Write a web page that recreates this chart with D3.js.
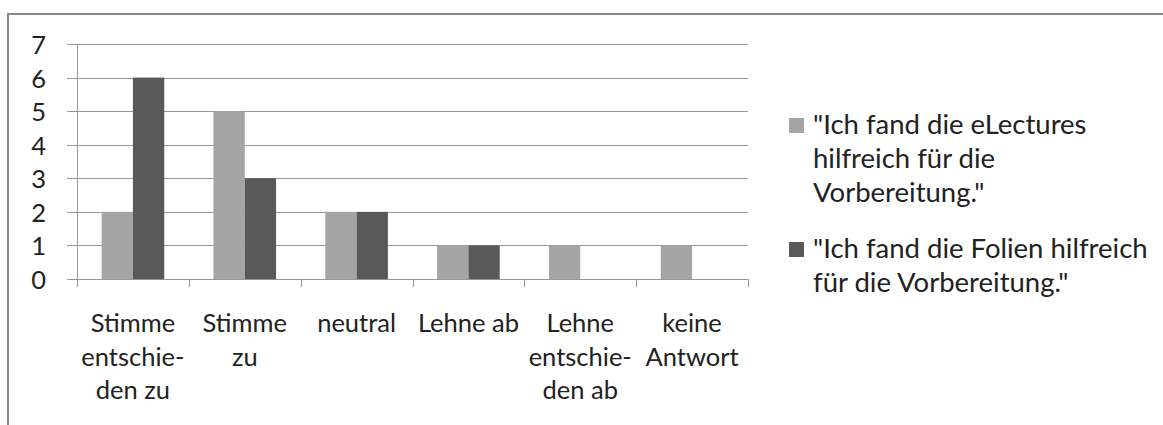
<!DOCTYPE html>
<html>
<head>
<meta charset="utf-8">
<script src="https://cdn.jsdelivr.net/npm/d3@7"></script>
<style>
  html, body { margin: 0; padding: 0; background: #fff; }
  svg { display: block; }
  text { font-family: Lato, "Noto Sans", sans-serif; fill: #222; }
</style>
</head>
<body>
<svg id="chart" width="1163" height="425"></svg>
<script>
// ---- data ----
const categories = [
  "Stimme\nentschie-\nden zu",
  "Stimme\nzu",
  "neutral",
  "Lehne ab",
  "Lehne\nentschie-\nden ab",
  "keine\nAntwort"
];
const seriesNames = [
  "\"Ich fand die eLectures\nhilfreich für die\nVorbereitung.\"",
  "\"Ich fand die Folien hilfreich\nfür die Vorbereitung.\""
];
const eLectures = [2, 5, 2, 1, 1, 1];
const folien    = [6, 3, 2, 1, 0, 0];
const yTicks = [0, 1, 2, 3, 4, 5, 6, 7];
const colors = ["#a5a5a5", "#595959"];

(function () {
const svg = d3.select("#chart");
const axisFont = 25.5;
const legendFont = 27.5;

// chart border
svg.append("rect")
  .attr("x", 8).attr("y", 14).attr("width", 1170).attr("height", 440)
  .attr("fill", "none").attr("stroke", "#878787").attr("stroke-width", 2);

const pL = 77, pR = 748, pT = 44, pB = 279;

const x = d3.scaleBand().domain(d3.range(categories.length)).range([pL, pR]).padding(0);
const bw = x.bandwidth();
const x1 = d3.scaleBand().domain([0, 1])
  .range([bw * 0.22, bw * 0.78]).padding(0);
const y = d3.scaleLinear().domain([0, 7]).range([pB, pT]);

// gridlines
svg.append("g").selectAll("line").data(yTicks).join("line")
  .attr("x1", pL - 10).attr("x2", pR)
  .attr("y1", d => Math.round(y(d)) + 0.5).attr("y2", d => Math.round(y(d)) + 0.5)
  .attr("stroke", "#979797").attr("stroke-width", 1);

// y axis labels
svg.append("g").selectAll("text").data(yTicks).join("text")
  .attr("x", 46).attr("y", d => y(d))
  .attr("text-anchor", "end").attr("dominant-baseline", "central")
  .attr("font-size", axisFont)
  .text(d => d);

// y axis line
svg.append("line")
  .attr("x1", pL + 0.5).attr("x2", pL + 0.5)
  .attr("y1", pT).attr("y2", pB)
  .attr("stroke", "#979797");

// bars
const series = [eLectures, folien];
const g = svg.append("g");
series.forEach((vals, si) => {
  g.selectAll(null).data(vals).join("rect")
    .attr("x", (d, i) => x(i) + x1(si))
    .attr("width", x1.bandwidth())
    .attr("y", d => y(d))
    .attr("height", d => y(0) - y(d))
    .attr("fill", colors[si]);
});

// x axis line and ticks
svg.append("line")
  .attr("x1", pL).attr("x2", pR)
  .attr("y1", Math.round(pB) + 0.5).attr("y2", Math.round(pB) + 0.5)
  .attr("stroke", "#979797");
const tickPos = d3.range(categories.length).map(i => x(i)).concat([pR]);
svg.append("g").selectAll("line").data(tickPos).join("line")
  .attr("x1", d => Math.round(d) + 0.5).attr("x2", d => Math.round(d) + 0.5)
  .attr("y1", pB).attr("y2", pB + 8)
  .attr("stroke", "#979797");

// category labels
const labG = svg.append("g");
categories.forEach((c, i) => {
  const t = labG.append("text")
    .attr("x", x(i) + bw / 2).attr("y", 332)
    .attr("text-anchor", "middle").attr("font-size", axisFont);
  c.split("\n").forEach((line, li) => {
    t.append("tspan").attr("x", x(i) + bw / 2).attr("dy", li === 0 ? 0 : 33.5).text(line);
  });
});

// legend
const legY = [118, 242];
seriesNames.forEach((name, si) => {
  svg.append("rect")
    .attr("x", 789).attr("y", legY[si]).attr("width", 15).attr("height", 15)
    .attr("fill", colors[si]);
  const t = svg.append("text")
    .attr("x", 813).attr("y", legY[si] + 16)
    .attr("font-size", legendFont);
  name.split("\n").forEach((line, li) => {
    t.append("tspan").attr("x", 813).attr("dy", li === 0 ? 0 : 34).text(line);
  });
});
})();
</script>
</body>
</html>
